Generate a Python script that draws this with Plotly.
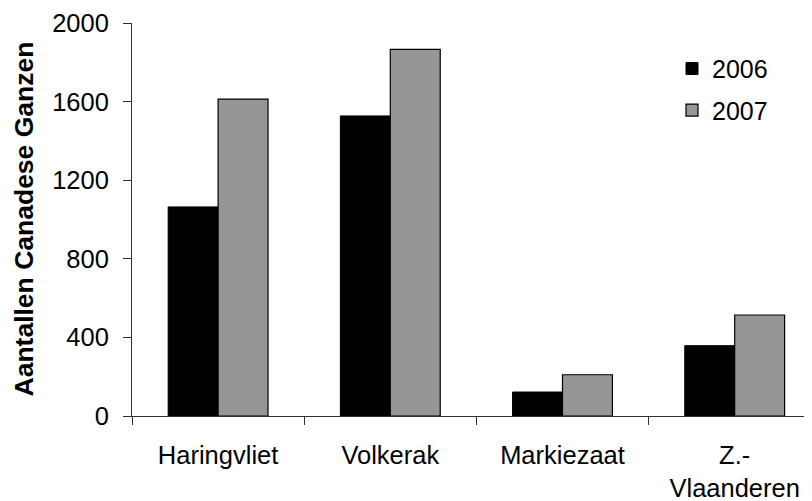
import plotly.graph_objects as go

categories = ["Haringvliet", "Volkerak", "Markiezaat", "Z.-<br>Vlaanderen"]
years = ["2006", "2007"]
values_2006 = [1064, 1527, 122, 358]
values_2007 = [1613, 1866, 210, 514]
y_ticks = [0, 400, 800, 1200, 1600, 2000]

FONT = "Liberation Sans, Arial, sans-serif"

# The page body has an 8px default margin; size the figure to fit the window.
W, H = 804, 493

fig = go.Figure()
fig.add_trace(go.Bar(
    x=categories, y=values_2006, name=years[0], legendgroup="a",
    marker=dict(color="#000000", line=dict(color="#000000", width=1)),
))
fig.add_trace(go.Bar(
    x=categories, y=values_2007, name=years[1], legendgroup="b",
    marker=dict(color="#969696", line=dict(color="#000000", width=1.2)),
))

fig.update_layout(
    width=W, height=H,
    paper_bgcolor="white", plot_bgcolor="white",
    margin=dict(l=124, r=0, t=15, b=85, autoexpand=False),
    barmode="group", bargap=0.42, bargroupgap=0,
    font=dict(family=FONT, size=25, color="black"),
    showlegend=True,
    legend=dict(
        x=(664 - 124) / 680, xanchor="left",
        y=0.942, yanchor="top",
        font=dict(size=25, color="black"),
        bgcolor="rgba(0,0,0,0)",
        traceorder="grouped", tracegroupgap=6,
        itemwidth=30,
    ),
    xaxis=dict(
        type="category",
        range=[-0.5, 3.449],
        showline=True, linecolor="#303030", linewidth=1,
        ticks="outside", ticklen=8, tickcolor="#303030", tickwidth=1,
        tickson="boundaries",
        ticklabelstandoff=16,
        showgrid=False, zeroline=False,
        tickfont=dict(size=25.5, color="black"),
    ),
    yaxis=dict(
        range=[0, 2000],
        tickvals=y_ticks, ticktext=[str(v) for v in y_ticks],
        showline=True, linecolor="#303030", linewidth=1,
        ticks="outside", ticklen=8, tickcolor="#303030", tickwidth=1,
        ticklabelstandoff=9,
        showgrid=False, zeroline=False,
        tickfont=dict(size=25.5, color="black"),
    ),
    annotations=[dict(
        text="<b>Aantallen Canadese Ganzen</b>",
        xref="paper", yref="paper", x=0, y=0.5,
        xshift=-109, textangle=-90,
        showarrow=False, xanchor="center", yanchor="middle",
        font=dict(size=26.5, color="black", family=FONT),
    )],
)

fig.write_html("out.html")
